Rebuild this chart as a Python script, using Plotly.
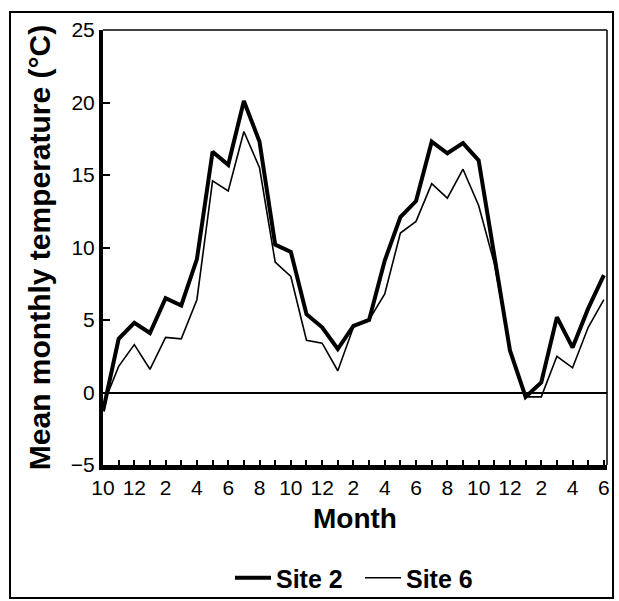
import plotly.graph_objects as go

month_index = list(range(33))
month_labels = ["10", "11", "12", "1", "2", "3", "4", "5", "6", "7", "8", "9",
                "10", "11", "12", "1", "2", "3", "4", "5", "6", "7", "8", "9",
                "10", "11", "12", "1", "2", "3", "4", "5", "6"]
site2 = [-1.3, 3.7, 4.8, 4.1, 6.5, 6.0, 9.2, 16.6, 15.7, 20.1, 17.3, 10.2, 9.7,
         5.4, 4.5, 3.0, 4.6, 5.0, 9.1, 12.1, 13.2, 17.3, 16.5, 17.2, 16.0, 9.6,
         2.9, -0.3, 0.7, 5.2, 3.1, 5.8, 8.1]
site6 = [-0.9, 1.8, 3.3, 1.6, 3.8, 3.7, 6.4, 14.6, 13.9, 18.0, 15.5, 9.0, 8.0,
         3.6, 3.4, 1.5, 4.5, 5.0, 6.8, 11.0, 11.8, 14.4, 13.4, 15.4, 12.9, 8.9,
         3.0, -0.3, -0.3, 2.5, 1.7, 4.5, 6.4]
y_ticks = [-5, 0, 5, 10, 15, 20, 25]

ticktext = [lab if i % 2 == 0 else "" for i, lab in enumerate(month_labels)]

fig = go.Figure()
fig.add_trace(go.Scatter(x=month_index, y=site2, mode="lines", name="Site 2",
                         line=dict(color="black", width=4), legend="legend"))
fig.add_trace(go.Scatter(x=month_index, y=site6, mode="lines", name="Site 6",
                         line=dict(color="black", width=1.6), legend="legend2"))

font = "Liberation Sans, Arial, sans-serif"
leg_common = dict(orientation="h", xanchor="left", xref="container", yref="container",
                  y=1 - 578 / 601, yanchor="middle",
                  font=dict(size=25, family=font, weight="bold"), itemwidth=36,
                  bgcolor="rgba(0,0,0,0)", borderwidth=0)
fig.update_layout(
    width=619, height=601,
    margin=dict(l=103, r=12, t=30, b=136),
    paper_bgcolor="white", plot_bgcolor="white",
    font=dict(family=font, color="black", size=21),
    showlegend=True,
    legend=dict(x=230 / 619, **leg_common),
    legend2=dict(x=360 / 619, **leg_common),
    xaxis=dict(range=[0, 32.2], tickmode="array", tickvals=month_index, ticktext=ticktext,
               ticks="inside", ticklen=5, tickwidth=1.5, tickcolor="black",
               showline=True, linewidth=5, linecolor="black", showgrid=False, zeroline=False,
               tickfont=dict(size=21), automargin=False,
               title=dict(text="Month", font=dict(size=28, weight="bold"), standoff=12)),
    yaxis=dict(range=[-5, 25], tickmode="array", tickvals=y_ticks,
               ticks="inside", ticklen=7, tickwidth=1.5, tickcolor="black",
               showline=True, linewidth=4, linecolor="black", showgrid=False,
               zeroline=True, zerolinecolor="black", zerolinewidth=1.5,
               tickfont=dict(size=21), automargin=False,
               title=dict(text="Mean monthly temperature (°C)",
                          font=dict(size=30, weight="bold"), standoff=12)),
)

# thin top and right frame lines of the plot area
fig.add_shape(type="line", xref="paper", yref="paper", x0=0, x1=1, y0=1, y1=1,
              line=dict(color="black", width=1.5))
fig.add_shape(type="line", xref="paper", yref="paper", x0=1, x1=1, y0=0, y1=1,
              line=dict(color="black", width=1.5))
# outer figure frame
fig.add_shape(type="rect", xref="paper", yref="paper",
              x0=(10 - 103) / 504, x1=(613 - 103) / 504,
              y0=(465 - 598) / 435, y1=(465 - 12) / 435,
              line=dict(color="black", width=2), fillcolor="rgba(0,0,0,0)")

fig.write_html("out.html")
